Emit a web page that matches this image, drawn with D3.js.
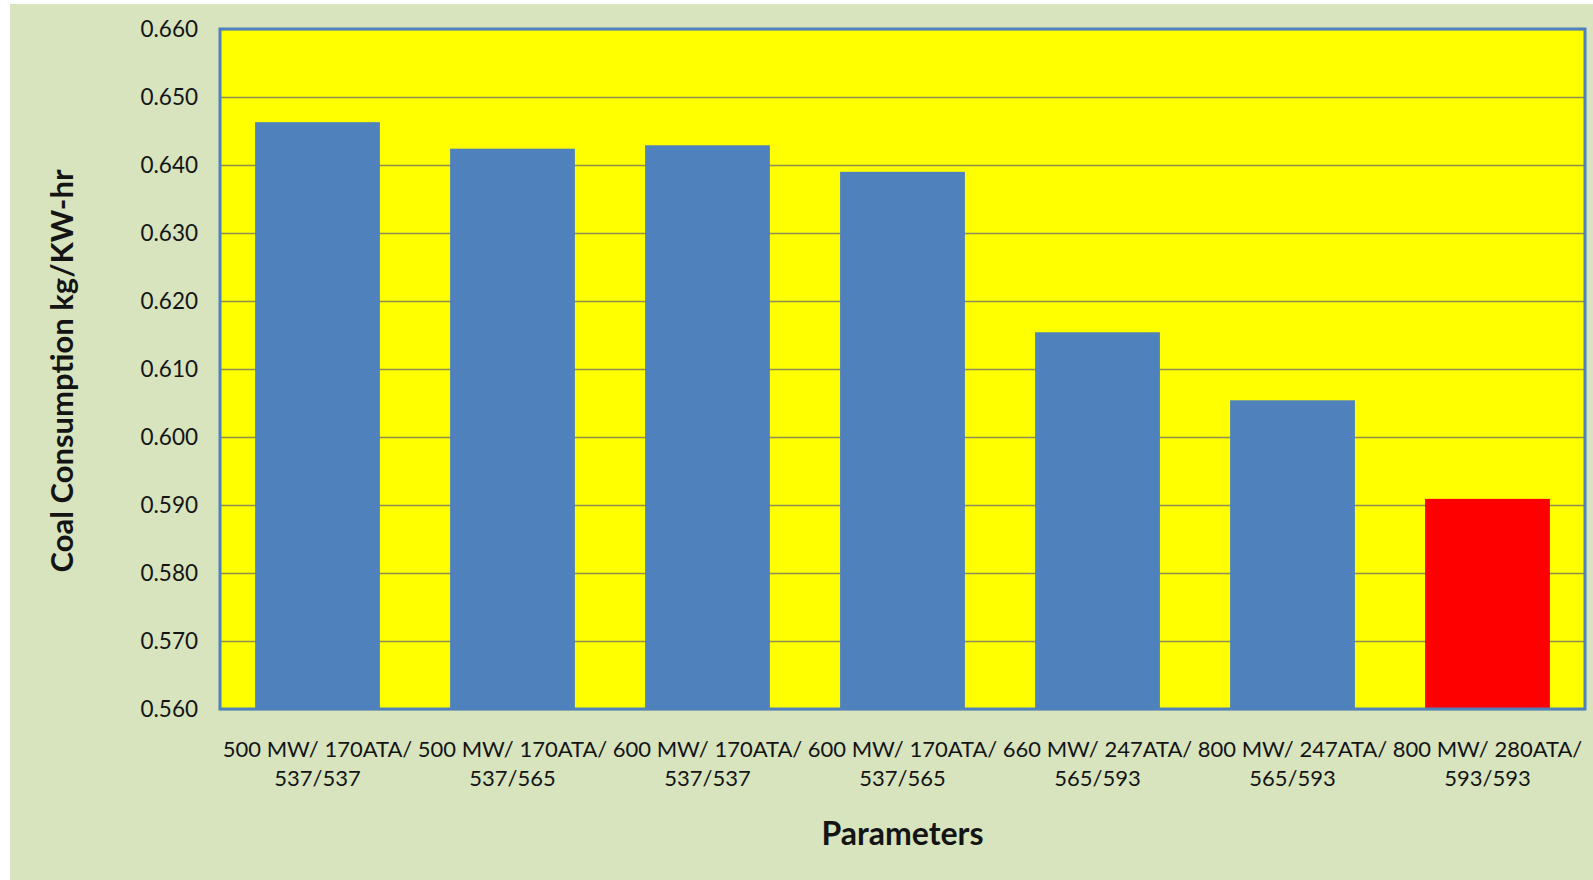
<!DOCTYPE html>
<html>
<head>
<meta charset="utf-8">
<script src="https://cdn.jsdelivr.net/npm/d3@7"></script>
<style>
  body { margin: 0; background: #ffffff; }
  .axes-font text { font-family: Lato, "Open Sans", sans-serif; fill: #141414; }
</style>
</head>
<body>
<div id="vis1"></div>
<script>
// chart data
const CATEGORIES = ["500 MW/ 170ATA/ 537/537", "500 MW/ 170ATA/ 537/565", "600 MW/ 170ATA/ 537/537",
                    "600 MW/ 170ATA/ 537/565", "660 MW/ 247ATA/ 565/593", "800 MW/ 247ATA/ 565/593",
                    "800 MW/ 280ATA/ 593/593"];
const VALUES = [0.6463, 0.6424, 0.6429, 0.6390, 0.6154, 0.6054, 0.5909];
const BAR_COLORS = ["#4F81BD", "#4F81BD", "#4F81BD", "#4F81BD", "#4F81BD", "#4F81BD", "#FF0000"];
const Y_TICKS = [0.560, 0.570, 0.580, 0.590, 0.600, 0.610, 0.620, 0.630, 0.640, 0.650, 0.660];
const Y_TITLE = "Coal Consumption kg/KW-hr";
const X_TITLE = "Parameters";

const FRAME_HEIGHT = 880;
const FRAME_WIDTH = 1593;
const MARGINS = {left: 220, right: 8, top: 29, bottom: 171};

const VIS_HEIGHT = FRAME_HEIGHT - MARGINS.top - MARGINS.bottom;
const VIS_WIDTH = FRAME_WIDTH - MARGINS.left - MARGINS.right;

const FRAME1 = d3.select("#vis1")
                  .append("svg")
                  .attr("height", FRAME_HEIGHT)
                  .attr("width", FRAME_WIDTH)
                  .attr("class", "frame");

function build_bar_chart() {
  // outer chart background
  FRAME1.append("rect")
        .attr("x", 10).attr("y", 4)
        .attr("width", FRAME_WIDTH - 10).attr("height", FRAME_HEIGHT - 4)
        .attr("fill", "#D7E4BD");

  const X_Scale = d3.scaleBand()
            .domain(CATEGORIES)
            .range([MARGINS.left, MARGINS.left + VIS_WIDTH])
            .paddingInner(0.36)
            .paddingOuter(0.18);
  const Y_Scale = d3.scaleLinear()
            .domain([d3.min(Y_TICKS), d3.max(Y_TICKS)])
            .range([MARGINS.top + VIS_HEIGHT, MARGINS.top]);

  // plot area
  FRAME1.append("rect")
        .attr("x", MARGINS.left).attr("y", MARGINS.top)
        .attr("width", VIS_WIDTH).attr("height", VIS_HEIGHT)
        .attr("fill", "#FFFF00");

  // gridlines
  FRAME1.append("g")
        .attr("transform", "translate(" + MARGINS.left + ",0)")
        .call(d3.axisLeft(Y_Scale).tickValues(Y_TICKS).tickSize(-VIS_WIDTH).tickFormat(""))
        .call(g => g.select(".domain").remove())
        .call(g => g.selectAll("line").attr("stroke", "#8c8c5a").attr("stroke-width", 1.5));

  // bars
  FRAME1.selectAll(".bar")
      .data(VALUES)
      .enter().append("rect")
      .attr("class", "bar")
      .attr("x", (d, i) => X_Scale(CATEGORIES[i]))
      .attr("y", d => Y_Scale(d))
      .attr("width", X_Scale.bandwidth())
      .attr("height", d => Y_Scale(d3.min(Y_TICKS)) - Y_Scale(d))
      .attr("fill", (d, i) => BAR_COLORS[i]);

  // plot border
  FRAME1.append("rect")
        .attr("x", MARGINS.left).attr("y", MARGINS.top)
        .attr("width", VIS_WIDTH).attr("height", VIS_HEIGHT)
        .attr("fill", "none")
        .attr("stroke", "#4F81BD")
        .attr("stroke-width", 3);

  // y axis labels
  FRAME1.append("g")
        .attr("transform", "translate(" + MARGINS.left + ",0)")
        .attr("class", "axes-font")
        .call(d3.axisLeft(Y_Scale).tickValues(Y_TICKS).tickSize(0).tickPadding(22).tickFormat(d3.format(".3f")))
        .call(g => g.select(".domain").remove())
        .call(g => g.selectAll("text").attr("font-size", 22.5));

  // x axis labels, two lines each
  const xAxis = FRAME1.append("g")
        .attr("transform", "translate(0," + (MARGINS.top + VIS_HEIGHT) + ")")
        .attr("class", "axes-font")
        .call(d3.axisBottom(X_Scale).tickSize(0).tickPadding(0).tickFormat(""))
        .call(g => g.select(".domain").remove());
  xAxis.selectAll(".tick text").remove();
  xAxis.selectAll(".tick").append("text")
       .attr("text-anchor", "middle")
       .attr("font-size", 22)
       .each(function(d) {
         const parts = d.split(" ");
         const lines = [parts.slice(0, 3).join(" "), parts.slice(3).join(" ")];
         d3.select(this).selectAll("tspan")
           .data(lines)
           .enter().append("tspan")
           .attr("x", 0)
           .attr("y", (t, j) => 48 + j * 29)
           .text(t => t);
       });

  // axis titles
  FRAME1.append("text")
        .attr("transform", "translate(73," + (MARGINS.top + VIS_HEIGHT / 2 + 2) + ") rotate(-90)")
        .attr("text-anchor", "middle")
        .attr("font-family", "Lato, 'Open Sans', sans-serif")
        .attr("font-weight", "bold")
        .attr("font-size", 31)
        .attr("fill", "#141414")
        .text(Y_TITLE);

  FRAME1.append("text")
        .attr("x", MARGINS.left + VIS_WIDTH / 2)
        .attr("y", 845)
        .attr("text-anchor", "middle")
        .attr("font-family", "Lato, 'Open Sans', sans-serif")
        .attr("font-weight", "bold")
        .attr("font-size", 32)
        .attr("fill", "#141414")
        .text(X_TITLE);
}

build_bar_chart();
</script>
</body>
</html>
